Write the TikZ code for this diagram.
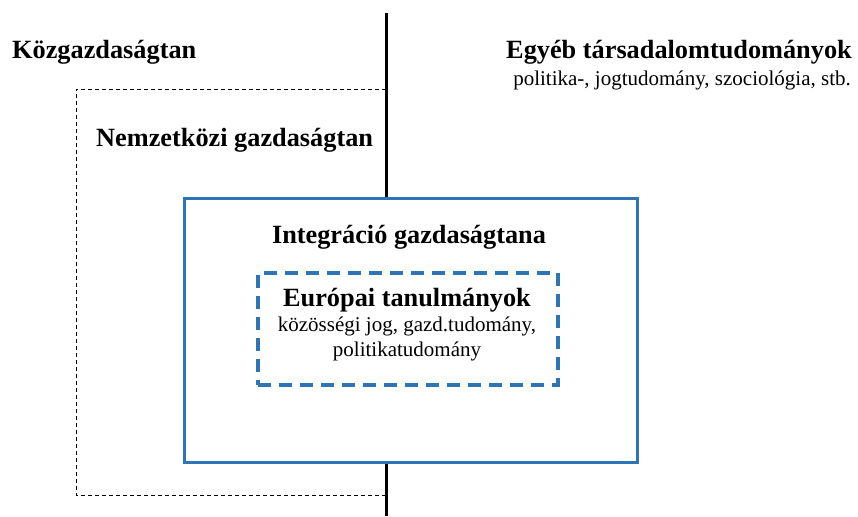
\documentclass[tikz,border=0pt]{standalone}
\usepackage{fontspec}
\setmainfont{Liberation Serif}
\definecolor{boxblue}{HTML}{2E75B6}
\begin{document}
\begin{tikzpicture}[x=1pt,y=-1pt,
  big/.style={font=\fontsize{26.3}{30}\selectfont\bfseries, inner sep=0pt},
  small/.style={font=\fontsize{21}{25}\selectfont, inner sep=0pt},
  bluebox/.style={draw=boxblue, line width=3pt},
  dashbox/.style={draw=boxblue, line width=3.5pt, dash pattern=on 13pt off 8pt},
  thindash/.style={draw=black, line width=0.8pt, dash pattern=on 4pt off 3pt},
  divider/.style={draw=black, line width=3pt}]
\useasboundingbox (0,0) rectangle (858,516);
% dashed outer box (Nemzetközi)
\coordinate (ntl) at (76,89);
\coordinate (ntr) at (386,89);
\coordinate (nbl) at (76,495);
\coordinate (nbr) at (386,495);
\draw[thindash] (ntr) -- (ntl) -- (nbl) -- (nbr);
% divider
\coordinate (dtop) at (386,13);
\coordinate (dbot) at (386,516);
\draw[divider] (dtop) -- (dbot);
% integration box
\node[bluebox, fill=white, minimum width=453pt, minimum height=264pt, anchor=north west] (integ) at (182.5,196.5) {};
% inner dashed box
\node[dashbox, minimum width=300pt, minimum height=112pt, anchor=north west] (eur) at (256,271) {};
% texts
\node[big, anchor=west] (kozg) at (12,52) {Közgazdaságtan};
\node[big, anchor=east] (egyeb) at (852,52) {Egyéb társadalomtudományok};
\node[small, anchor=east] (egyebsub) at (851,80) {politika-, jogtudomány, szociológia, stb.};
\node[big, anchor=west] (nemz) at (96,140) {Nemzetközi gazdaságtan};
\node[big] (integt) at (409,237) {Integráció gazdaságtana};
\node[big] (eurt) at (407,300) {Európai tanulmányok};
\node[small, align=center] (eursub) at (407,339) {közösségi jog, gazd.tudomány,\\politikatudomány};
\end{tikzpicture}
\end{document}
